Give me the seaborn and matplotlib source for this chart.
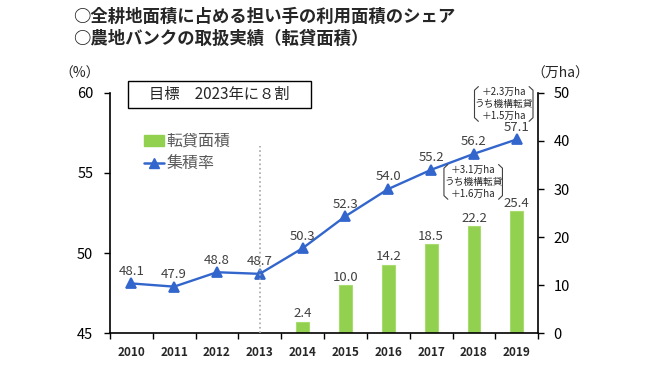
import numpy as np
import pandas as pd
import matplotlib
matplotlib.use("Agg")
import matplotlib.pyplot as plt
from matplotlib.lines import Line2D
from matplotlib.patches import Patch, Rectangle
import seaborn as sns

# data
years = ["2010", "2011", "2012", "2013", "2014", "2015", "2016", "2017", "2018", "2019"]
share = [48.1, 47.9, 48.8, 48.7, 50.3, 52.3, 54.0, 55.2, 56.2, 57.1]   # 集積率 (%)
bank_years = ["2014", "2015", "2016", "2017", "2018", "2019"]
bank_area = [2.4, 10.0, 14.2, 18.5, 22.2, 25.4]                        # 転貸面積 (万ha)

sns.set_theme(style="white")
plt.rcParams["font.family"] = ["Noto Sans CJK JP", "DejaVu Sans"]

line_color = "#3366CC"
bar_color = "#92D050"
label_color = "#404040"

fig = plt.figure(figsize=(6.5, 3.66), dpi=100)
ax = fig.add_axes([0.169, 0.090, 0.659, 0.656])
axl = ax.twinx()

# bars on the right axis
df_bar = pd.DataFrame({"year": bank_years, "area": bank_area})
sns.barplot(data=df_bar, x="year", y="area", order=years, ax=ax,
            color=bar_color, width=0.3, edgecolor="#A9DC6E", linewidth=0.8,
            saturation=1)
ax.set_ylim(0, 50)
ax.set_yticks(range(0, 51, 10))
for c in ax.containers:
    ax.bar_label(c, labels=[f"{v:.1f}" for v in bank_area], padding=1,
                 fontsize=9.5, color=label_color)

# line on the left axis
df_line = pd.DataFrame({"year": years, "share": share})
sns.pointplot(data=df_line, x="year", y="share", order=years, ax=axl,
              color=line_color, markers="^", markersize=7, linewidth=1.7)
axl.set_ylim(45, 60)
axl.set_yticks([45, 50, 55, 60])
for i, v in enumerate(share):
    axl.annotate(f"{v:.1f}", (i, v), xytext=(0, 4), textcoords="offset points",
                 ha="center", va="bottom", fontsize=9.5, color=label_color)

for a in (ax, axl):
    a.set_xlim(-0.5, 9.5)
    a.set_xlabel("")
    a.set_ylabel("")
    a.grid(False)
    for s in a.spines.values():
        s.set_visible(False)

ax.yaxis.tick_right()
axl.yaxis.tick_left()
ax.spines["right"].set_visible(True)
ax.spines["bottom"].set_visible(True)
axl.spines["left"].set_visible(True)
for s in (ax.spines["right"], ax.spines["bottom"], axl.spines["left"]):
    s.set_color("black")
    s.set_linewidth(1.2)

ax.tick_params(axis="y", left=False, labelleft=False, right=True,
               labelright=True, direction="out", length=4, width=1,
               labelsize=10.5, colors="black", pad=7)
axl.tick_params(axis="y", right=False, labelright=False, left=True,
                labelleft=True, direction="out", length=4, width=1,
                labelsize=10.5, colors="black", pad=8)
ax.set_xticks(range(len(years)))
ax.set_xticklabels(years, fontsize=8.5, fontweight="bold")
ax.set_xticks(np.arange(-0.5, len(years), 1.0), minor=True)
ax.tick_params(axis="x", which="major", length=0, pad=9)
ax.tick_params(axis="x", which="minor", bottom=True, direction="out",
               length=4, width=1, color="black")
axl.tick_params(axis="x", bottom=False, labelbottom=False)

# dotted separator at 2013
axl.axvline(3, ymin=0, ymax=0.78, color="#A6A6A6", linestyle=":", linewidth=1.2)

# unit labels
fig.text(0.123, 0.800, "（%）", fontsize=10, ha="center", va="center")
fig.text(0.862, 0.800, "（万ha）", fontsize=10, ha="center", va="center")

# title
fig.text(0.113, 0.953, "○全耕地面積に占める担い手の利用面積のシェア",
         fontsize=12.5, fontweight="bold", ha="left", va="center")
fig.text(0.113, 0.895, "○農地バンクの取扱実績（転貸面積）",
         fontsize=12.5, fontweight="bold", ha="left", va="center")

# goal box
fig.add_artist(Rectangle((0.197, 0.705), 0.281, 0.074, transform=fig.transFigure,
                         facecolor="white", edgecolor="black", lw=1, zorder=3))
fig.text(0.337, 0.742, "目標　2023年に８割", fontsize=11, ha="center",
         va="center", zorder=4)

# legend
handles = [Patch(facecolor=bar_color, edgecolor=bar_color, label="転貸面積"),
           Line2D([0], [0], color=line_color, marker="^", markersize=7,
                  lw=1.8, label="集積率")]
fig.legend(handles=handles, loc="upper left", bbox_to_anchor=(0.2, 0.676),
           frameon=False, fontsize=11.5, handlelength=1.2, handletextpad=0.2,
           labelspacing=0.35, labelcolor="#595959")

# bracket notes
def note(xc, yc, w, h, text):
    fig.text(xc, yc, text, fontsize=7, ha="center", va="center",
             linespacing=1.2, color="#262626")
    for side in (-1, 1):
        x0 = xc + side * w / 2
        x1 = x0 - side * 0.006
        fig.add_artist(Line2D([x1, x0, x0, x1],
                              [yc + h / 2, yc + h / 2 - 0.01,
                               yc - h / 2 + 0.01, yc - h / 2],
                              transform=fig.transFigure, color="#404040",
                              lw=0.8))

note(0.775, 0.716, 0.09, 0.095, "＋2.3万ha\nうち機構転貸\n＋1.5万ha")
note(0.728, 0.503, 0.09, 0.095, "＋3.1万ha\nうち機構転貸\n＋1.6万ha")

fig.savefig("out.png", dpi=100)
